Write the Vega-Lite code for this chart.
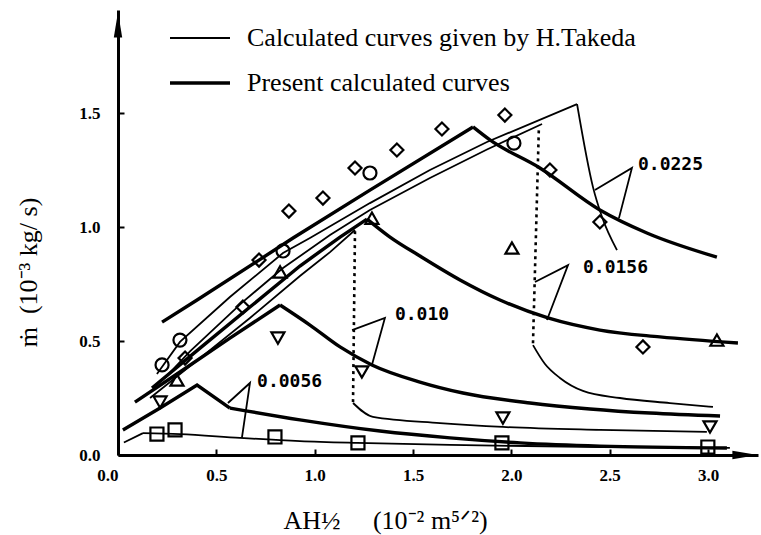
{
  "$schema": "https://vega.github.io/schema/vega-lite/v6.json",
  "width": 640,
  "height": 445,
  "autosize": {"type": "none"},
  "padding": {"left": 118, "top": 10, "right": 3, "bottom": 80},
  "background": "white",
  "config": {"view": {"stroke": null}, "font": "Liberation Serif"},
  "datasets": {
    "curves": [
      {"seg": "A-P", "kind": "Present calculated curves", "part": "lin", "x": 0.224, "y": 0.583},
      {"seg": "A-P", "kind": "Present calculated curves", "part": "lin", "x": 0.402, "y": 0.680},
      {"seg": "A-P", "kind": "Present calculated curves", "part": "lin", "x": 0.717, "y": 0.855},
      {"seg": "A-P", "kind": "Present calculated curves", "part": "lin", "x": 0.890, "y": 0.952},
      {"seg": "A-P", "kind": "Present calculated curves", "part": "lin", "x": 1.281, "y": 1.162},
      {"seg": "A-P", "kind": "Present calculated curves", "part": "lin", "x": 1.805, "y": 1.439},
      {"seg": "A-P", "kind": "Present calculated curves", "part": "smooth", "x": 1.805, "y": 1.439},
      {"seg": "A-P", "kind": "Present calculated curves", "part": "smooth", "x": 1.891, "y": 1.382},
      {"seg": "A-P", "kind": "Present calculated curves", "part": "smooth", "x": 2.145, "y": 1.259},
      {"seg": "A-P", "kind": "Present calculated curves", "part": "smooth", "x": 2.450, "y": 1.075},
      {"seg": "A-P", "kind": "Present calculated curves", "part": "smooth", "x": 2.689, "y": 0.974},
      {"seg": "A-P", "kind": "Present calculated curves", "part": "smooth", "x": 3.045, "y": 0.868},

      {"seg": "A-T", "kind": "Calculated curves given by H.Takeda", "part": "lin", "x": 0.198, "y": 0.355},
      {"seg": "A-T", "kind": "Calculated curves given by H.Takeda", "part": "lin", "x": 0.315, "y": 0.496},
      {"seg": "A-T", "kind": "Calculated curves given by H.Takeda", "part": "lin", "x": 0.569, "y": 0.693},
      {"seg": "A-T", "kind": "Calculated curves given by H.Takeda", "part": "lin", "x": 0.839, "y": 0.886},
      {"seg": "A-T", "kind": "Calculated curves given by H.Takeda", "part": "lin", "x": 0.976, "y": 0.952},
      {"seg": "A-T", "kind": "Calculated curves given by H.Takeda", "part": "lin", "x": 1.281, "y": 1.105},
      {"seg": "A-T", "kind": "Calculated curves given by H.Takeda", "part": "lin", "x": 1.586, "y": 1.250},
      {"seg": "A-T", "kind": "Calculated curves given by H.Takeda", "part": "lin", "x": 1.876, "y": 1.373},
      {"seg": "A-T", "kind": "Calculated curves given by H.Takeda", "part": "lin", "x": 2.334, "y": 1.539},
      {"seg": "A-T", "kind": "Calculated curves given by H.Takeda", "part": "smooth", "x": 2.334, "y": 1.539},
      {"seg": "A-T", "kind": "Calculated curves given by H.Takeda", "part": "smooth", "x": 2.415, "y": 1.175},
      {"seg": "A-T", "kind": "Calculated curves given by H.Takeda", "part": "smooth", "x": 2.461, "y": 1.044},
      {"seg": "A-T", "kind": "Calculated curves given by H.Takeda", "part": "smooth", "x": 2.537, "y": 0.899},

      {"seg": "B-T", "kind": "Calculated curves given by H.Takeda", "part": "lin", "x": 0.239, "y": 0.338},
      {"seg": "B-T", "kind": "Calculated curves given by H.Takeda", "part": "lin", "x": 0.366, "y": 0.455},
      {"seg": "B-T", "kind": "Calculated curves given by H.Takeda", "part": "lin", "x": 0.635, "y": 0.672},
      {"seg": "B-T", "kind": "Calculated curves given by H.Takeda", "part": "lin", "x": 0.839, "y": 0.820},
      {"seg": "B-T", "kind": "Calculated curves given by H.Takeda", "part": "lin", "x": 1.078, "y": 0.965},
      {"seg": "B-T", "kind": "Calculated curves given by H.Takeda", "part": "lin", "x": 1.281, "y": 1.075},
      {"seg": "B-T", "kind": "Calculated curves given by H.Takeda", "part": "lin", "x": 1.586, "y": 1.215},
      {"seg": "B-T", "kind": "Calculated curves given by H.Takeda", "part": "lin", "x": 1.876, "y": 1.340},
      {"seg": "B-T", "kind": "Calculated curves given by H.Takeda", "part": "lin", "x": 2.156, "y": 1.452},
      {"seg": "B-T2", "kind": "Calculated curves given by H.Takeda", "part": "smooth", "x": 2.110, "y": 0.482},
      {"seg": "B-T2", "kind": "Calculated curves given by H.Takeda", "part": "smooth", "x": 2.171, "y": 0.399},
      {"seg": "B-T2", "kind": "Calculated curves given by H.Takeda", "part": "smooth", "x": 2.247, "y": 0.338},
      {"seg": "B-T2", "kind": "Calculated curves given by H.Takeda", "part": "smooth", "x": 2.364, "y": 0.281},
      {"seg": "B-T2", "kind": "Calculated curves given by H.Takeda", "part": "smooth", "x": 2.552, "y": 0.250},
      {"seg": "B-T2", "kind": "Calculated curves given by H.Takeda", "part": "smooth", "x": 2.806, "y": 0.228},
      {"seg": "B-T2", "kind": "Calculated curves given by H.Takeda", "part": "smooth", "x": 3.025, "y": 0.211},

      {"seg": "B-P", "kind": "Present calculated curves", "part": "lin", "x": 0.173, "y": 0.294},
      {"seg": "B-P", "kind": "Present calculated curves", "part": "lin", "x": 0.417, "y": 0.469},
      {"seg": "B-P", "kind": "Present calculated curves", "part": "lin", "x": 0.671, "y": 0.649},
      {"seg": "B-P", "kind": "Present calculated curves", "part": "lin", "x": 0.925, "y": 0.829},
      {"seg": "B-P", "kind": "Present calculated curves", "part": "lin", "x": 1.129, "y": 0.956},
      {"seg": "B-P", "kind": "Present calculated curves", "part": "lin", "x": 1.266, "y": 1.035},
      {"seg": "B-P", "kind": "Present calculated curves", "part": "smooth", "x": 1.266, "y": 1.035},
      {"seg": "B-P", "kind": "Present calculated curves", "part": "smooth", "x": 1.383, "y": 0.956},
      {"seg": "B-P", "kind": "Present calculated curves", "part": "smooth", "x": 1.535, "y": 0.873},
      {"seg": "B-P", "kind": "Present calculated curves", "part": "smooth", "x": 1.739, "y": 0.768},
      {"seg": "B-P", "kind": "Present calculated curves", "part": "smooth", "x": 1.942, "y": 0.680},
      {"seg": "B-P", "kind": "Present calculated curves", "part": "smooth", "x": 2.186, "y": 0.601},
      {"seg": "B-P", "kind": "Present calculated curves", "part": "smooth", "x": 2.450, "y": 0.548},
      {"seg": "B-P", "kind": "Present calculated curves", "part": "smooth", "x": 2.755, "y": 0.518},
      {"seg": "B-P", "kind": "Present calculated curves", "part": "smooth", "x": 3.152, "y": 0.491},

      {"seg": "C-T", "kind": "Calculated curves given by H.Takeda", "part": "lin", "x": 0.163, "y": 0.250},
      {"seg": "C-T", "kind": "Calculated curves given by H.Takeda", "part": "lin", "x": 0.417, "y": 0.425},
      {"seg": "C-T", "kind": "Calculated curves given by H.Takeda", "part": "lin", "x": 0.671, "y": 0.601},
      {"seg": "C-T", "kind": "Calculated curves given by H.Takeda", "part": "lin", "x": 0.925, "y": 0.785},
      {"seg": "C-T", "kind": "Calculated curves given by H.Takeda", "part": "lin", "x": 1.078, "y": 0.890},
      {"seg": "C-T", "kind": "Calculated curves given by H.Takeda", "part": "lin", "x": 1.205, "y": 0.987},
      {"seg": "C-T2", "kind": "Calculated curves given by H.Takeda", "part": "smooth", "x": 1.195, "y": 0.228},
      {"seg": "C-T2", "kind": "Calculated curves given by H.Takeda", "part": "smooth", "x": 1.296, "y": 0.167},
      {"seg": "C-T2", "kind": "Calculated curves given by H.Takeda", "part": "smooth", "x": 1.637, "y": 0.140},
      {"seg": "C-T2", "kind": "Calculated curves given by H.Takeda", "part": "smooth", "x": 1.957, "y": 0.123},
      {"seg": "C-T2", "kind": "Calculated curves given by H.Takeda", "part": "smooth", "x": 2.450, "y": 0.110},
      {"seg": "C-T2", "kind": "Calculated curves given by H.Takeda", "part": "smooth", "x": 2.994, "y": 0.101},

      {"seg": "C-P", "kind": "Present calculated curves", "part": "lin", "x": 0.086, "y": 0.232},
      {"seg": "C-P", "kind": "Present calculated curves", "part": "lin", "x": 0.315, "y": 0.364},
      {"seg": "C-P", "kind": "Present calculated curves", "part": "lin", "x": 0.569, "y": 0.513},
      {"seg": "C-P", "kind": "Present calculated curves", "part": "lin", "x": 0.824, "y": 0.658},
      {"seg": "C-P", "kind": "Present calculated curves", "part": "smooth", "x": 0.824, "y": 0.658},
      {"seg": "C-P", "kind": "Present calculated curves", "part": "smooth", "x": 0.976, "y": 0.570},
      {"seg": "C-P", "kind": "Present calculated curves", "part": "smooth", "x": 1.129, "y": 0.474},
      {"seg": "C-P", "kind": "Present calculated curves", "part": "smooth", "x": 1.291, "y": 0.395},
      {"seg": "C-P", "kind": "Present calculated curves", "part": "smooth", "x": 1.535, "y": 0.320},
      {"seg": "C-P", "kind": "Present calculated curves", "part": "smooth", "x": 1.754, "y": 0.272},
      {"seg": "C-P", "kind": "Present calculated curves", "part": "smooth", "x": 2.095, "y": 0.228},
      {"seg": "C-P", "kind": "Present calculated curves", "part": "smooth", "x": 2.400, "y": 0.202},
      {"seg": "C-P", "kind": "Present calculated curves", "part": "smooth", "x": 2.705, "y": 0.184},
      {"seg": "C-P", "kind": "Present calculated curves", "part": "smooth", "x": 3.061, "y": 0.171},

      {"seg": "D-P", "kind": "Present calculated curves", "part": "lin", "x": 0.025, "y": 0.110},
      {"seg": "D-P", "kind": "Present calculated curves", "part": "lin", "x": 0.214, "y": 0.206},
      {"seg": "D-P", "kind": "Present calculated curves", "part": "lin", "x": 0.402, "y": 0.307},
      {"seg": "D-P", "kind": "Present calculated curves", "part": "lin", "x": 0.569, "y": 0.206},
      {"seg": "D-P", "kind": "Present calculated curves", "part": "smooth", "x": 0.569, "y": 0.206},
      {"seg": "D-P", "kind": "Present calculated curves", "part": "smooth", "x": 0.925, "y": 0.154},
      {"seg": "D-P", "kind": "Present calculated curves", "part": "smooth", "x": 1.332, "y": 0.105},
      {"seg": "D-P", "kind": "Present calculated curves", "part": "smooth", "x": 1.688, "y": 0.075},
      {"seg": "D-P", "kind": "Present calculated curves", "part": "smooth", "x": 2.044, "y": 0.053},
      {"seg": "D-P", "kind": "Present calculated curves", "part": "smooth", "x": 2.450, "y": 0.039},
      {"seg": "D-P", "kind": "Present calculated curves", "part": "smooth", "x": 3.096, "y": 0.031},

      {"seg": "D-T", "kind": "Calculated curves given by H.Takeda", "part": "lin", "x": 0.030, "y": 0.055},
      {"seg": "D-T", "kind": "Calculated curves given by H.Takeda", "part": "lin", "x": 0.127, "y": 0.096},
      {"seg": "D-T", "kind": "Calculated curves given by H.Takeda", "part": "smooth", "x": 0.127, "y": 0.096},
      {"seg": "D-T", "kind": "Calculated curves given by H.Takeda", "part": "smooth", "x": 0.315, "y": 0.092},
      {"seg": "D-T", "kind": "Calculated curves given by H.Takeda", "part": "smooth", "x": 0.620, "y": 0.075},
      {"seg": "D-T", "kind": "Calculated curves given by H.Takeda", "part": "smooth", "x": 0.925, "y": 0.061},
      {"seg": "D-T", "kind": "Calculated curves given by H.Takeda", "part": "smooth", "x": 1.215, "y": 0.053},
      {"seg": "D-T", "kind": "Calculated curves given by H.Takeda", "part": "smooth", "x": 1.688, "y": 0.044},
      {"seg": "D-T", "kind": "Calculated curves given by H.Takeda", "part": "smooth", "x": 2.450, "y": 0.035},
      {"seg": "D-T", "kind": "Calculated curves given by H.Takeda", "part": "smooth", "x": 3.111, "y": 0.031}
    ],
    "dotted": [
      {"seg": "B", "x": 2.140, "y": 1.440},
      {"seg": "B", "x": 2.110, "y": 0.490},
      {"seg": "C", "x": 1.205, "y": 0.985},
      {"seg": "C", "x": 1.195, "y": 0.232}
    ],
    "points": [
      {"g": "S1", "x": 0.341, "y": 0.425}, {"g": "S1", "x": 0.635, "y": 0.649}, {"g": "S1", "x": 0.717, "y": 0.855},
      {"g": "S1", "x": 0.869, "y": 1.070}, {"g": "S1", "x": 1.042, "y": 1.127}, {"g": "S1", "x": 1.205, "y": 1.259},
      {"g": "S1", "x": 1.418, "y": 1.338}, {"g": "S1", "x": 1.647, "y": 1.430}, {"g": "S1", "x": 1.967, "y": 1.491},
      {"g": "S1", "x": 2.196, "y": 1.250}, {"g": "S1", "x": 2.450, "y": 1.022}, {"g": "S1", "x": 2.669, "y": 0.474},
      {"g": "S2", "x": 0.224, "y": 0.395}, {"g": "S2", "x": 0.315, "y": 0.504}, {"g": "S2", "x": 0.839, "y": 0.895},
      {"g": "S2", "x": 1.281, "y": 1.237}, {"g": "S2", "x": 2.013, "y": 1.368},
      {"g": "S3", "x": 0.300, "y": 0.329}, {"g": "S3", "x": 0.824, "y": 0.803}, {"g": "S3", "x": 1.291, "y": 1.039},
      {"g": "S3", "x": 2.003, "y": 0.908}, {"g": "S3", "x": 3.045, "y": 0.504},
      {"g": "S4", "x": 0.214, "y": 0.232}, {"g": "S4", "x": 0.813, "y": 0.513}, {"g": "S4", "x": 1.240, "y": 0.364},
      {"g": "S4", "x": 1.957, "y": 0.162}, {"g": "S4", "x": 3.010, "y": 0.123},
      {"g": "S5", "x": 0.198, "y": 0.092}, {"g": "S5", "x": 0.290, "y": 0.110}, {"g": "S5", "x": 0.798, "y": 0.079},
      {"g": "S5", "x": 1.220, "y": 0.053}, {"g": "S5", "x": 1.952, "y": 0.053}, {"g": "S5", "x": 2.999, "y": 0.035}
    ],
    "pointers": [
      {"p": "0.0225", "o": 1, "x": 2.425, "y": 1.162}, {"p": "0.0225", "o": 2, "x": 2.613, "y": 1.259}, {"p": "0.0225", "o": 3, "x": 2.547, "y": 1.039},
      {"p": "0.0156", "o": 1, "x": 2.120, "y": 0.759}, {"p": "0.0156", "o": 2, "x": 2.288, "y": 0.833}, {"p": "0.0156", "o": 3, "x": 2.181, "y": 0.592},
      {"p": "0.010", "o": 1, "x": 1.190, "y": 0.548}, {"p": "0.010", "o": 2, "x": 1.357, "y": 0.601}, {"p": "0.010", "o": 3, "x": 1.291, "y": 0.395},
      {"p": "0.0056", "o": 1, "x": 0.559, "y": 0.228}, {"p": "0.0056", "o": 2, "x": 0.671, "y": 0.316}, {"p": "0.0056", "o": 3, "x": 0.630, "y": 0.075}
    ],
    "labels": [
      {"t": "0.0225", "x": 2.644, "y": 1.272},
      {"t": "0.0156", "x": 2.364, "y": 0.820},
      {"t": "0.010", "x": 1.408, "y": 0.614},
      {"t": "0.0056", "x": 0.707, "y": 0.320}
    ]
  },
  "encoding": {
    "x": {
      "field": "x", "type": "quantitative",
      "scale": {"domain": [0, 3.254], "nice": false, "zero": false},
      "axis": {
        "values": [0, 0.5, 1, 1.5, 2, 2.5, 3], "format": ".1f", "grid": false,
        "title": "AH½\u00a0\u00a0\u00a0\u00a0\u00a0(10⁻² m⁵ᐟ²)", "titleX": 267, "titleY": 73, "titleBaseline": "alphabetic",
        "titleFont": "Liberation Serif", "titleFontSize": 26, "titleFontWeight": "normal", "titleColor": "black",
        "labelFont": "Liberation Serif", "labelFontSize": 17, "labelFontWeight": "bold", "labelColor": "black",
        "labelPadding": 18, "labelFlush": false, "labelOverlap": false,
        "labelAlign": {"condition": {"test": "datum.value === 0", "value": "right"}, "value": "center"},
        "domainColor": "black", "domainWidth": 3, "tickColor": "black", "tickWidth": 2, "tickSize": -6
      }
    },
    "y": {
      "field": "y", "type": "quantitative",
      "scale": {"domain": [0, 1.952], "nice": false, "zero": false},
      "axis": {
        "values": [0, 0.5, 1, 1.5], "format": ".1f", "grid": false,
        "title": "ṁ\u00a0\u00a0(10⁻³ kg/\u00a0s)", "titleX": -90, "titleY": 262, "titleAngle": -90,
        "titleAlign": "center", "titleBaseline": "middle",
        "titleFont": "Liberation Serif", "titleFontSize": 26, "titleFontWeight": "normal", "titleColor": "black",
        "labelFont": "Liberation Serif", "labelFontSize": 17, "labelFontWeight": "bold", "labelColor": "black",
        "labelPadding": 24, "labelFlush": false, "labelOverlap": false,
        "domainColor": "black", "domainWidth": 3, "tickColor": "black", "tickWidth": 2, "tickSize": -6
      }
    }
  },
  "layer": [
    {
      "data": {"name": "curves"},
      "transform": [{"filter": "datum.part === 'lin'"}],
      "mark": {"type": "line", "color": "black", "interpolate": "linear"},
      "encoding": {
        "detail": {"field": "seg"},
        "strokeWidth": {
          "field": "kind", "type": "nominal",
          "scale": {"domain": ["Calculated curves given by H.Takeda", "Present calculated curves"], "range": [1.8, 3.4]},
          "legend": {
            "title": null, "orient": "none", "legendX": 50, "legendY": -3, "padding": 0,
            "symbolType": "stroke", "symbolSize": 3600, "symbolStrokeColor": "black",
            "labelFont": "Liberation Serif", "labelFontSize": 26, "labelColor": "black",
            "labelOffset": 15, "rowPadding": 0, "labelLimit": 600
          }
        }
      }
    },
    {
      "data": {"name": "curves"},
      "transform": [{"filter": "datum.part === 'smooth'"}],
      "mark": {"type": "line", "color": "black", "interpolate": "monotone"},
      "encoding": {
        "detail": {"field": "seg"},
        "strokeWidth": {"field": "kind", "type": "nominal"}
      }
    },
    {
      "data": {"name": "dotted"},
      "mark": {"type": "line", "color": "black", "strokeWidth": 2.6, "strokeDash": [3, 4]},
      "encoding": {"detail": {"field": "seg"}}
    },
    {
      "data": {"name": "pointers"},
      "mark": {"type": "line", "color": "black", "strokeWidth": 1.8},
      "encoding": {
        "detail": {"field": "p"},
        "order": {"field": "o", "type": "quantitative"}
      }
    },
    {
      "data": {"name": "points"},
      "mark": {"type": "point", "filled": false, "stroke": "black", "strokeWidth": 2.2, "size": 170, "opacity": 1},
      "encoding": {
        "shape": {
          "field": "g", "type": "nominal",
          "scale": {"domain": ["S1", "S2", "S3", "S4", "S5"], "range": ["diamond", "circle", "triangle-up", "triangle-down", "square"]},
          "legend": null
        }
      }
    },
    {
      "data": {"name": "labels"},
      "mark": {"type": "text", "font": "DejaVu Sans Mono", "fontSize": 18, "fontWeight": "bold", "align": "left", "baseline": "middle", "color": "black"},
      "encoding": {"text": {"field": "t"}}
    },
    {
      "data": {"values": [{"x": 0, "y": 1.877}]},
      "mark": {"type": "point", "shape": "M0,-1L0.28,0.7L-0.28,0.7Z", "size": 900, "filled": true, "color": "black", "opacity": 1}
    },
    {
      "data": {"values": [{"x": 3.177, "y": 0}]},
      "mark": {"type": "point", "shape": "M1,0L-0.7,0.28L-0.7,-0.28Z", "size": 900, "filled": true, "color": "black", "opacity": 1}
    }
  ]
}
